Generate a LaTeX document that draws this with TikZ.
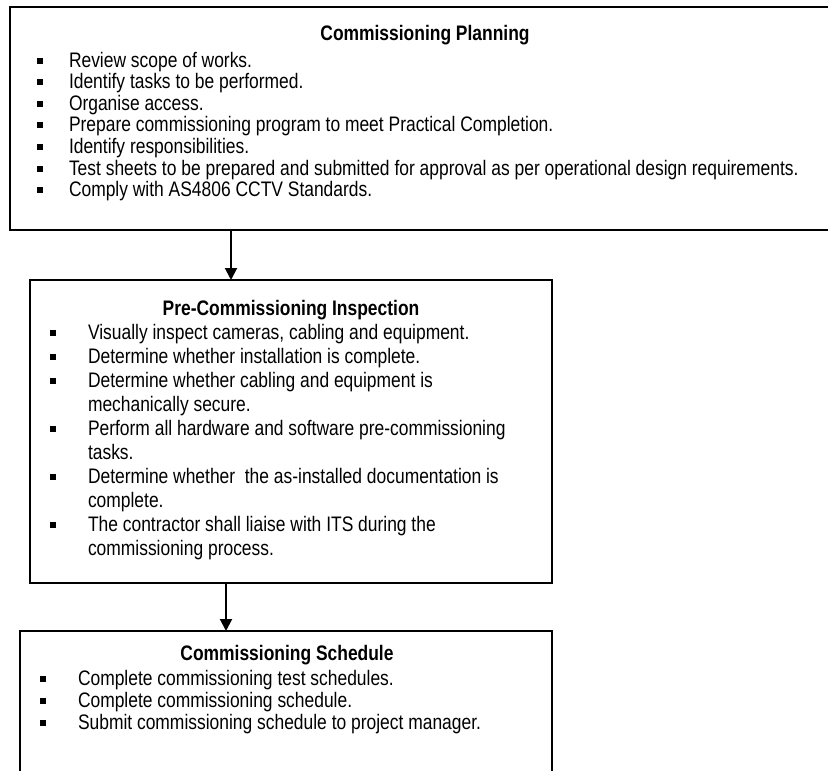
\documentclass[tikz,border=0pt]{standalone}
\usepackage{fontspec}
\usepackage{graphicx}
\setmainfont{Liberation Sans}
\usetikzlibrary{arrows.meta}
\newcommand{\cond}[1]{\scalebox{0.83}[1]{#1}}
\begin{document}
\begin{tikzpicture}[x=1pt,y=-1pt,
  every node/.style={inner sep=0pt, outer sep=0pt},
  txt/.style={anchor=base west, font=\fontsize{21}{24}\selectfont},
  ttl/.style={anchor=base, font=\fontsize{21}{24}\selectfont\bfseries},
  bul/.style={fill=black, minimum width=5.5pt, minimum height=6pt, draw=none},
  boxst/.style={draw=black, line width=2pt},
  arr/.style={draw=black, line width=2pt, -{Triangle[width=12pt,length=12pt]}}]
\useasboundingbox (0,0) rectangle (828,771);
% boxes
\node[boxst, minimum width=840pt, minimum height=223pt] (b1) at (430,118.5) {};
\node[boxst, minimum width=522pt, minimum height=303pt] (b2) at (291,431.5) {};
\node[boxst, minimum width=532pt, minimum height=170pt] (b3) at (286,716) {};
% arrows
\coordinate (a1) at (231,0);
\coordinate (a2) at (226,0);
\draw[arr] (b1.south -| a1) -- (b2.north -| a1);
\draw[arr] (b2.south -| a2) -- (b3.north -| a2);
% box 1
\node[ttl] (h1) at (425,40) {\cond{Commissioning Planning}};
\foreach \i/\t in {0/{Review scope of works.},
  1/{Identify tasks to be performed.},
  2/{Organise access.},
  3/{Prepare commissioning program to meet Practical Completion.},
  4/{Identify responsibilities.},
  5/{Test sheets to be prepared and submitted for approval as per operational design requirements.},
  6/{Comply with AS4806 CCTV Standards.}}{
  \node[txt] (p\i) at (69,67+21.6*\i) {\cond{\t}};
  \node[bul] (pb\i) at (40,60.5+21.6*\i) {};
}
% box 2
\node[ttl] (h2) at (291,315) {\cond{Pre-Commissioning Inspection}};
\foreach \i/\t in {0/{Visually inspect cameras, cabling and equipment.},
  1/{Determine whether installation is complete.},
  2/{Determine whether cabling and equipment is},
  3/{mechanically secure.},
  4/{Perform all hardware and software pre-commissioning},
  5/{tasks.},
  6/{Determine whether~ the as-installed documentation is},
  7/{complete.},
  8/{The contractor shall liaise with ITS during the},
  9/{commissioning process.}}{
  \node[txt] (q\i) at (88,339+24*\i) {\cond{\t}};
}
\foreach \i in {0,1,2,4,6,8}{
  \node[bul] (qb\i) at (53,332.5+24*\i) {};
}
% box 3
\node[ttl] (h3) at (287,660) {\cond{Commissioning Schedule}};
\foreach \i/\t in {0/{Complete commissioning test schedules.},
  1/{Complete commissioning schedule.},
  2/{Submit commissioning schedule to project manager.}}{
  \node[txt] (r\i) at (78,685+22*\i) {\cond{\t}};
  \node[bul] (rb\i) at (43,678.5+22*\i) {};
}
\end{tikzpicture}
\end{document}
